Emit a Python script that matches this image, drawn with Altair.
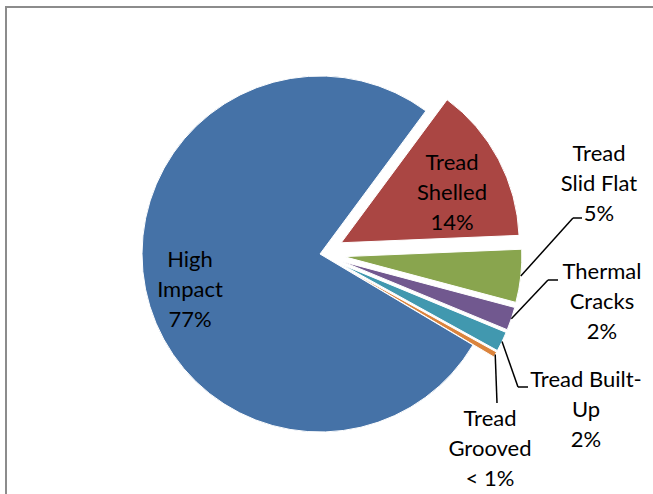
import math
import altair as alt
import pandas as pd

# ---- data ----
categories = ["Tread Shelled", "Tread Slid Flat", "Thermal Cracks",
              "Tread Built-Up", "Tread Grooved", "High Impact"]
values = [14.2, 4.8, 2.1, 1.8, 0.5, 76.6]
label_text = ["Tread\nShelled\n14%", "Tread\nSlid Flat\n5%", "Thermal\nCracks\n2%",
              "Tread Built-\nUp\n2%", "Tread\nGrooved\n< 1%", "High\nImpact\n77%"]
colors = ["#AA4643", "#89A54E", "#71588F", "#4198AF", "#DB843D", "#4572A7"]

# ---- layout ----
W, H = 653, 494
CX, CY, R = 320, 254, 178
START = math.radians(36.5)
explode = [24, 24, 24, 24, 24, 0]
label_x = [452, 599, 602, 586, 490, 190]
label_y = [163, 154, 272, 380, 419, 260]
elbow_x = [None, 573, 548, 518, 497, None]
elbow_y = [None, 218, 280, 387, 403, None]
end_x = [None, 582, 558, 528, 497, None]
end_y = [None, 218, 280, 387, 403, None]

df = pd.DataFrame({
    "category": categories, "value": values, "label": label_text,
    "order": list(range(len(categories))), "explode": explode,
    "lx": label_x, "ly": label_y,
    "ex": elbow_x, "ey": elbow_y, "tx": end_x, "ty": end_y,
})

base = alt.Chart(df).transform_window(
    cum="sum(value)", sort=[alt.SortField("order")],
    frame=[None, 0]
).transform_joinaggregate(total="sum(value)").transform_calculate(
    a0=f"{START} + (datum.cum - datum.value) / datum.total * 2 * PI",
    a1=f"{START} + datum.cum / datum.total * 2 * PI",
).transform_calculate(
    mid="(datum.a0 + datum.a1) / 2"
).transform_calculate(
    cx=f"{CX} + datum.explode * sin(datum.mid)",
    cy=f"{CY} - datum.explode * cos(datum.mid)",
).transform_calculate(
    ax=f"datum.cx + {R} * sin(datum.mid)",
    ay=f"datum.cy - {R} * cos(datum.mid)",
)

pie = base.mark_arc(radius=R, stroke="white", strokeWidth=1).encode(
    theta=alt.Theta("a0:Q", scale=None, stack=None),
    theta2="a1:Q",
    x=alt.X("cx:Q", scale=None, axis=None),
    y=alt.Y("cy:Q", scale=None, axis=None),
    color=alt.Color("category:N", scale=alt.Scale(domain=categories, range=colors), legend=None),
)

lead1 = base.transform_filter("isValid(datum.ex)").mark_rule(
    color="black", strokeWidth=1.5).encode(
    x=alt.X("ax:Q", scale=None, axis=None), y=alt.Y("ay:Q", scale=None, axis=None),
    x2="ex:Q", y2="ey:Q")

lead2 = base.transform_filter("isValid(datum.ex)").mark_rule(
    color="black", strokeWidth=1.5).encode(
    x=alt.X("ex:Q", scale=None, axis=None), y=alt.Y("ey:Q", scale=None, axis=None),
    x2="tx:Q", y2="ty:Q")

labels = base.mark_text(font="Lato", fontSize=22, lineHeight=30, align="center",
                        baseline="middle", lineBreak="\n", color="black").encode(
    x=alt.X("lx:Q", scale=None, axis=None), y=alt.Y("ly:Q", scale=None, axis=None),
    text="label:N")

border = alt.Chart(alt.Data(values=[{"a": 1}])).mark_rect(
    filled=False, stroke="#8c8c8c", strokeWidth=2).encode(
    x=alt.value(6), x2=alt.value(W + 50), y=alt.value(7), y2=alt.value(H + 50))

chart = alt.layer(border, pie, lead1, lead2, labels).properties(
    width=W, height=H, padding=0, autosize="none", background="white"
).configure_view(stroke=None)

chart.save("out.html", embed_options={"renderer": "svg", "actions": False})
